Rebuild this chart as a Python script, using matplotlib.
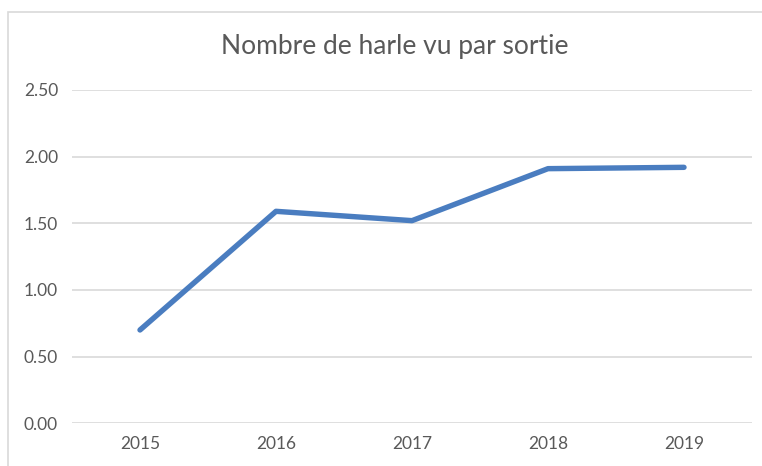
import matplotlib
matplotlib.use("Agg")
import matplotlib.pyplot as plt
from matplotlib.patches import Rectangle

years = ["2015", "2016", "2017", "2018", "2019"]
values = [0.70, 1.59, 1.52, 1.91, 1.92]
yticks = [0.0, 0.5, 1.0, 1.5, 2.0, 2.5]
title = "Nombre de harle vu par sortie"

W, H = 762, 466
fig = plt.figure(figsize=(W / 100, H / 100), dpi=100)
fig.patch.set_facecolor("white")

# outer chart border (light grey), open to the right/bottom edges
fig.add_artist(Rectangle((8 / W, -0.05), 1.1, 1 - 11.5 / H + 0.05,
                         transform=fig.transFigure, fill=False,
                         edgecolor="#d9d9d9", linewidth=1.2))

ax = fig.add_axes([72 / W, 1 - 423.3 / H, (752 - 72) / W, (423.3 - 90) / H])
x = list(range(len(years)))
ax.plot(x, values, color="#4a7dc0", linewidth=3.9, solid_capstyle="round",
        solid_joinstyle="round", zorder=3)
ax.set_xlim(-0.5, len(years) - 0.5)
ax.set_ylim(0, 2.5)
ax.set_yticks(yticks)
ax.set_yticklabels([f"{v:.2f}" for v in yticks])
ax.set_xticks(x)
ax.set_xticklabels(years)
ax.grid(axis="y", color="#d9d9d9", linewidth=1.2, zorder=0)
for s in ax.spines.values():
    s.set_visible(False)
ax.tick_params(length=0, colors="#595959", labelsize=12.5)
ax.tick_params(axis="y", pad=10)
ax.tick_params(axis="x", pad=9)
for lab in ax.get_xticklabels() + ax.get_yticklabels():
    lab.set_fontfamily("Lato")
    lab.set_color("#595959")

fig.text(394.5 / W, 1 - 54.3 / H, title, ha="center", va="baseline",
         fontsize=19, color="#595959", family="Lato")

fig.savefig("out.png", dpi=100)
